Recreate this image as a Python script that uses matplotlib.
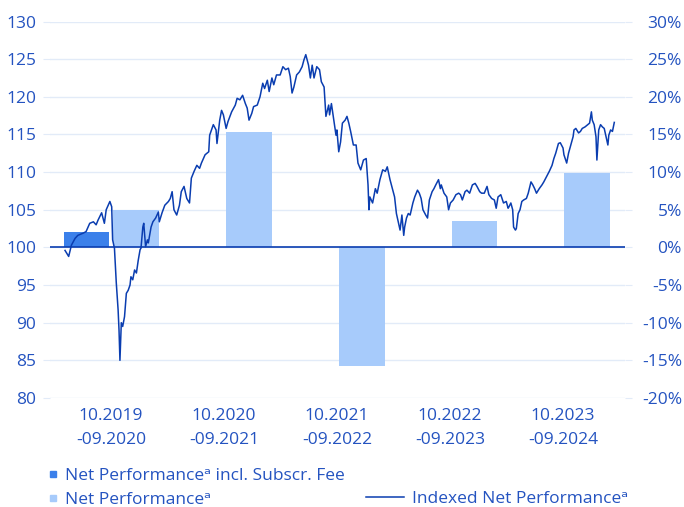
import numpy as np
import matplotlib.pyplot as plt
from matplotlib.lines import Line2D

plt.rcParams["font.family"] = ["Open Sans", "DejaVu Sans"]

# ---------- data ----------
periods = ["10.2019\n-09.2020", "10.2020\n-09.2021", "10.2021\n-09.2022",
           "10.2022\n-09.2023", "10.2023\n-09.2024"]
net_perf = [5.0, 15.3, -15.8, 3.5, 9.9]                     # %
net_perf_fee = [2.0, np.nan, np.nan, np.nan, np.nan]        # % incl. subscription fee

# indexed net performance (months since 10.2019, index value)
line_month = [0.0, 0.4, 0.7, 1.1, 1.4, 2.0, 2.3, 2.7, 3.1, 3.4, 3.6, 4.0, 4.3, 4.5, 4.9,
              5.1, 5.2, 5.4, 5.6, 5.8, 5.9, 6.0, 6.15, 6.3, 6.5, 6.7, 6.9, 7.1, 7.2, 7.4,
              7.6, 7.8, 8.0, 8.2, 8.3, 8.5, 8.6, 8.8, 9.0, 9.1, 9.4, 9.6, 9.9, 10.2, 10.3,
              10.6, 10.9, 11.3, 11.5, 11.7, 11.9, 12.2, 12.5, 12.7, 13.0, 13.3, 13.6, 13.8,
              14.1, 14.4, 14.7, 14.9, 15.3, 15.7, 15.8, 16.2, 16.5, 16.6, 16.9, 17.1, 17.3,
              17.6, 17.8, 18.2, 18.6, 18.8, 19.1, 19.4, 19.7, 19.9, 20.1, 20.4, 20.6, 21.0,
              21.3, 21.6, 21.8, 22.1, 22.3, 22.6, 22.8, 23.1, 23.5, 23.8, 24.1, 24.4, 24.6,
              24.8, 25.0, 25.3, 25.6, 25.9, 26.1, 26.3, 26.6, 26.8, 27.0, 27.2, 27.5, 27.8,
              28.0, 28.3, 28.5, 28.8, 28.9, 29.1, 29.3, 29.6, 29.7, 29.9, 30.1, 30.3, 30.6,
              30.8, 31.0, 31.2, 31.5, 31.8, 32.0, 32.3, 32.6, 32.9, 33.1, 33.2, 33.3, 33.6,
              33.9, 34.1, 34.4, 34.7, 35.0, 35.2, 35.5, 35.9, 36.0, 36.2, 36.4, 36.6, 36.8,
              37.0, 37.1, 37.3, 37.5, 37.7, 38.0, 38.2, 38.5, 38.7, 38.9, 39.1, 39.4, 39.6,
              39.8, 40.1, 40.3, 40.5, 40.8, 41.0, 41.1, 41.4, 41.7, 41.9, 42.1, 42.4, 42.7,
              43.0, 43.2, 43.4, 43.7, 43.9, 44.2, 44.5, 44.8, 45.0, 45.3, 45.5, 45.8, 46.1,
              46.3, 46.6, 46.9, 47.1, 47.3, 47.6, 47.9, 48.2, 48.4, 48.5, 48.7, 48.9, 49.0,
              49.2, 49.3, 49.5, 49.7, 49.9, 50.1, 50.4, 50.6, 50.9, 51.1, 51.3, 51.5, 51.8,
              52.1, 52.3, 52.6, 52.9, 53.2, 53.4, 53.6, 53.9, 54.1, 54.4, 54.5, 54.8, 55.0,
              55.2, 55.5, 55.6, 55.8, 56.1, 56.3, 56.5, 56.8, 57.1, 57.3, 57.5, 57.6, 57.8,
              58.0, 58.1, 58.3, 58.5, 58.7, 58.9, 59.1, 59.3, 59.4, 59.6, 59.8, 60.0]
line_index = [99.6, 98.8, 100.3, 101.2, 101.6, 101.9, 102.1, 103.2, 103.4, 103.0, 103.6, 104.6,
              103.2, 105.0, 106.1, 105.4, 101.0, 99.9, 95.3, 91.7, 89.0, 85.0, 90.0, 89.5, 90.8,
              93.9, 94.3, 95.0, 96.1, 95.7, 97.0, 96.6, 98.3, 99.7, 99.9, 102.7, 103.2, 100.1,
              101.0, 100.6, 102.7, 103.4, 103.9, 104.7, 103.4, 104.6, 105.6, 106.1, 106.5, 107.4,
              105.0, 104.3, 105.6, 107.4, 108.1, 106.5, 105.9, 109.2, 110.1, 110.9, 110.5, 111.2,
              112.3, 112.7, 114.9, 116.3, 115.6, 113.8, 116.9, 118.2, 117.6, 115.8, 116.7, 118.0,
              118.9, 119.8, 119.6, 120.2, 119.1, 118.5, 116.9, 117.8, 118.7, 118.9, 120.0, 121.8,
              121.1, 122.2, 120.7, 122.5, 121.6, 122.9, 122.9, 124.0, 123.6, 123.8, 122.7, 120.5,
              121.3, 122.9, 123.3, 124.0, 124.9, 125.6, 124.2, 122.5, 124.2, 122.5, 124.0, 123.6,
              122.0, 121.3, 117.4, 118.9, 117.6, 119.1, 117.4, 114.9, 115.6, 112.7, 114.0, 116.5,
              116.9, 117.4, 116.5, 115.4, 113.6, 113.6, 111.2, 110.3, 111.6, 111.8, 108.3, 105.0,
              106.7, 105.9, 107.8, 107.2, 109.0, 110.3, 110.1, 110.7, 109.0, 107.2, 106.7, 104.5,
              103.4, 102.3, 104.3, 101.6, 102.7, 103.9, 104.5, 104.3, 105.9, 106.7, 107.6, 107.2,
              106.5, 105.0, 104.3, 103.9, 106.3, 107.4, 107.8, 108.3, 109.0, 107.8, 108.3, 107.2,
              106.7, 105.0, 105.9, 106.3, 107.0, 107.2, 107.0, 106.3, 107.4, 107.6, 107.2, 108.3,
              108.5, 108.1, 107.4, 107.2, 107.2, 108.1, 107.0, 106.5, 106.3, 105.2, 106.7, 107.0,
              105.9, 106.1, 105.2, 105.4, 105.9, 105.0, 102.7, 102.3, 102.5, 104.5, 105.0, 106.1,
              106.3, 106.5, 107.2, 108.7, 108.3, 107.8, 107.2, 107.8, 108.3, 108.7, 109.4, 110.1,
              110.9, 111.8, 112.5, 113.8, 113.9, 113.2, 112.3, 111.2, 112.5, 113.4, 114.7, 115.6,
              115.8, 115.2, 115.4, 115.8, 116.0, 116.3, 116.5, 118.0, 116.9, 116.3, 114.7, 111.6,
              115.6, 116.3, 116.0, 115.8, 114.7, 113.6, 114.9, 115.6, 115.4, 116.6]

left_ticks = [80, 85, 90, 95, 100, 105, 110, 115, 120, 125, 130]

# ---------- style ----------
txt_col = "#2453c0"
dark_bar = "#3b80ea"
light_bar = "#a7cbfb"
line_col = "#0a3db0"
grid_col = "#e2ebf8"
fs = 12.5

fig = plt.figure(figsize=(6.84, 5.07), dpi=100)
ax = fig.add_axes([50 / 684, 1 - 398 / 507, 575 / 684, 376.5 / 507])

x = np.arange(len(periods))
w = 0.407
off = 0.217
ax.bar(x - off, net_perf_fee, width=w, bottom=100, color=dark_bar, zorder=2)
ax.bar(x + off, net_perf, width=w, bottom=100, color=light_bar, zorder=2)
ax.set_xlim(-0.54, 4.549)
ax.set_ylim(80, 130)

ax.set_yticks(left_ticks)
ax.set_yticklabels([str(t) for t in left_ticks])
ax.grid(axis="y", color=grid_col, lw=1, zorder=0)
ax.axhline(100, color=line_col, lw=1.2, zorder=3)
for s in ax.spines.values():
    s.set_visible(False)
ax.tick_params(axis="y", colors=grid_col, labelcolor=txt_col, labelsize=fs, length=5, pad=5)
ax.yaxis.get_major_ticks()[4].tick1line.set_color(line_col)

ax.set_xticks(x)
ax.set_xticklabels(periods)
ax.tick_params(axis="x", length=0, labelcolor=txt_col, labelsize=fs, pad=7)
for lbl in ax.get_xticklabels():
    lbl.set_linespacing(1.7)

# right axis in %
sec = ax.secondary_yaxis("right", functions=(lambda v: v - 100, lambda p: p + 100))
sec.set_yticks([t - 100 for t in left_ticks])
sec.set_yticklabels([f"{t - 100}%" for t in left_ticks])
sec.tick_params(colors=grid_col, labelcolor=txt_col, labelsize=fs, length=5, pad=36)
for lbl in sec.get_yticklabels():
    lbl.set_horizontalalignment("right")
sec.spines["right"].set_visible(False)

# index line on its own time axis
axl = ax.twiny()
axl.plot(line_month, line_index, color=line_col, lw=1.1, zorder=4)
axl.set_xlim(-1.64, 61.17)
axl.set_ylim(80, 130)
axl.axis("off")

# legend
h_dark = Line2D([], [], marker="s", ls="none", color=dark_bar, markersize=5)
h_light = Line2D([], [], marker="s", ls="none", color=light_bar, markersize=5)
h_line = Line2D([], [], color=line_col, lw=1.1)
leg1 = fig.legend([h_dark, h_light], ["Net Performanceᵃ incl. Subscr. Fee", "Net Performanceᵃ"],
                  loc="center left", bbox_to_anchor=(49 / 684, 1 - 488 / 507), frameon=False,
                  fontsize=fs, handlelength=0.5, handletextpad=0.4, labelspacing=0.5,
                  borderpad=0, borderaxespad=0, labelcolor=txt_col)
leg2 = fig.legend([h_line], ["Indexed Net Performanceᵃ"],
                  loc="center left", bbox_to_anchor=(366 / 684, 1 - 499 / 507), frameon=False,
                  fontsize=fs, handlelength=2.2, handletextpad=0.45,
                  borderpad=0, borderaxespad=0, labelcolor=txt_col)

fig.savefig("out.png", dpi=100)
